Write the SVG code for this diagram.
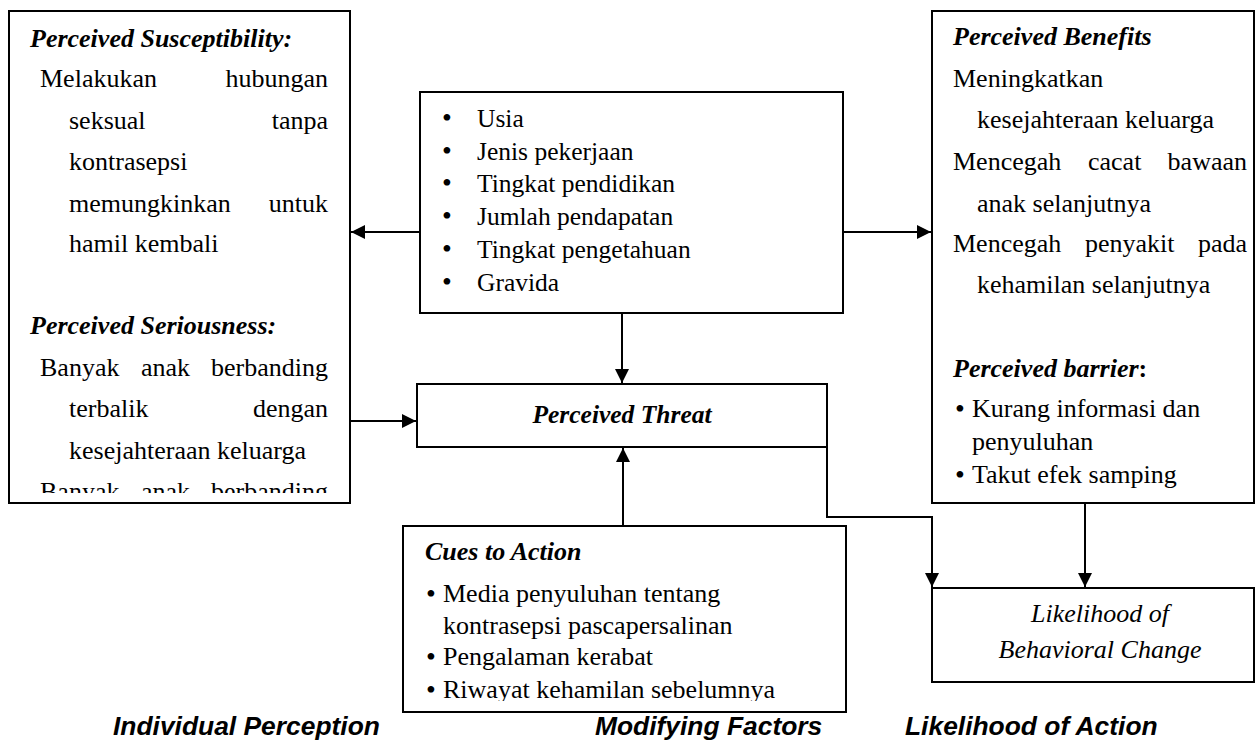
<svg xmlns="http://www.w3.org/2000/svg" width="1256" height="743" viewBox="0 0 1256 743">
<style>
.box{fill:#fff;stroke:#000;stroke-width:2}
.t{font-family:"Liberation Serif","Times New Roman",serif;font-size:26px;fill:#000}
.tc{font-family:"Liberation Serif","Times New Roman",serif;font-size:25.5px;fill:#000}
.h{font-weight:bold;font-style:italic}
.i{font-style:italic}
.e{text-anchor:end}
.m{text-anchor:middle}
.b1{font-size:28px;text-anchor:middle}
.b2{font-size:28px;text-anchor:middle}
.lab{font-family:"Liberation Sans",Arial,sans-serif;font-size:26.4px;font-weight:bold;font-style:italic;fill:#000}
.ln{fill:none;stroke:#000;stroke-width:2}
</style>
<defs>
<marker id="ah" markerUnits="userSpaceOnUse" markerWidth="15" markerHeight="15" refX="14" refY="7" orient="auto">
<path d="M0,0 L14,7 L0,14 z" fill="#000"/>
</marker>
<clipPath id="clipL"><rect x="9" y="11" width="341" height="482"/></clipPath>
<clipPath id="clipC"><rect x="403" y="526" width="443" height="175"/></clipPath>
</defs>
<rect width="1256" height="743" fill="#fff"/>

<g id="individual-perception">
<rect class="box" x="9" y="11" width="341" height="492"/>
<g clip-path="url(#clipL)" class="t">
<text x="30" y="47" class="h">Perceived Susceptibility:</text>
<text x="40" y="87">Melakukan</text><text x="328" y="87" class="e">hubungan</text>
<text x="69" y="129">seksual</text><text x="328" y="129" class="e">tanpa</text>
<text x="69" y="170">kontrasepsi</text>
<text x="69" y="212">memungkinkan</text><text x="328" y="212" class="e">untuk</text>
<text x="69" y="252">hamil kembali</text>
<text x="30" y="334" class="h">Perceived Seriousness:</text>
<text x="40" y="376">Banyak</text><text x="141" y="376">anak</text><text x="328" y="376" class="e">berbanding</text>
<text x="69" y="417">terbalik</text><text x="328" y="417" class="e">dengan</text>
<text x="69" y="459">kesejahteraan keluarga</text>
<text x="40" y="500">Banyak</text><text x="141" y="500">anak</text><text x="328" y="500" class="e">berbanding</text>
</g>
</g>

<g id="modifying-factors">
<rect class="box" x="420" y="92" width="423" height="221"/>
<g class="tc">
<text x="447" y="127" class="b1">•</text><text x="477" y="127">Usia</text>
<text x="447" y="160" class="b1">•</text><text x="477" y="160">Jenis pekerjaan</text>
<text x="447" y="192" class="b1">•</text><text x="477" y="192">Tingkat pendidikan</text>
<text x="447" y="225" class="b1">•</text><text x="477" y="225">Jumlah pendapatan</text>
<text x="447" y="258" class="b1">•</text><text x="477" y="258">Tingkat pengetahuan</text>
<text x="447" y="291" class="b1">•</text><text x="477" y="291">Gravida</text>
</g>
</g>

<g id="perceived-benefits-barrier">
<rect class="box" x="932" y="11" width="322" height="492"/>
<g class="t">
<text x="953" y="45" class="h">Perceived Benefits</text>
<text x="953" y="87">Meningkatkan</text>
<text x="977" y="128">kesejahteraan keluarga</text>
<text x="953" y="170">Mencegah</text><text x="1088" y="170">cacat</text><text x="1247" y="170" class="e">bawaan</text>
<text x="977" y="212">anak selanjutnya</text>
<text x="953" y="252">Mencegah</text><text x="1085" y="252">penyakit</text><text x="1247" y="252" class="e">pada</text>
<text x="977" y="293">kehamilan selanjutnya</text>
<text x="953" y="377"><tspan class="h">Perceived barrier</tspan><tspan font-weight="bold">:</tspan></text>
<text x="960" y="418" class="b2">•</text><text x="972" y="417">Kurang informasi dan</text>
<text x="972" y="450">penyuluhan</text>
<text x="960" y="484" class="b2">•</text><text x="972" y="483">Takut efek samping</text>
</g>
</g>

<g id="perceived-threat">
<rect class="box" x="417" y="384" width="410" height="63"/>
<text x="622" y="423" class="tc h m">Perceived Threat</text>
</g>

<g id="cues-to-action">
<rect class="box" x="403" y="526" width="443" height="186"/>
<g clip-path="url(#clipC)" class="t">
<text x="425" y="560" class="h">Cues to Action</text>
<text x="431" y="603" class="b2">•</text><text x="443" y="602">Media penyuluhan tentang</text>
<text x="443" y="634">kontrasepsi pascapersalinan</text>
<text x="431" y="666" class="b2">•</text><text x="443" y="665">Pengalaman kerabat</text>
<text x="431" y="699" class="b2">•</text><text x="443" y="698">Riwayat kehamilan sebelumnya</text>
</g>
</g>

<g id="likelihood-of-behavioral-change">
<rect class="box" x="932" y="588" width="322" height="94"/>
<text x="1100" y="622" class="t i m">Likelihood of</text>
<text x="1100" y="658" class="t i m">Behavioral Change</text>
</g>

<g id="connectors">
<line class="ln" x1="420" y1="232" x2="351" y2="232" marker-end="url(#ah)"/>
<line class="ln" x1="843" y1="232" x2="931" y2="232" marker-end="url(#ah)"/>
<line class="ln" x1="622" y1="313" x2="622" y2="383" marker-end="url(#ah)"/>
<line class="ln" x1="350" y1="421" x2="416" y2="421" marker-end="url(#ah)"/>
<line class="ln" x1="623" y1="526" x2="623" y2="448" marker-end="url(#ah)"/>
<polyline class="ln" points="827,447 827,517 932,517 932,587" marker-end="url(#ah)"/>
<line class="ln" x1="1085" y1="503" x2="1085" y2="587" marker-end="url(#ah)"/>
</g>

<g id="section-labels">
<text x="113" y="735" class="lab">Individual Perception</text>
<text x="595" y="735" class="lab">Modifying Factors</text>
<text x="905" y="735" class="lab">Likelihood of Action</text>
</g>
</svg>
